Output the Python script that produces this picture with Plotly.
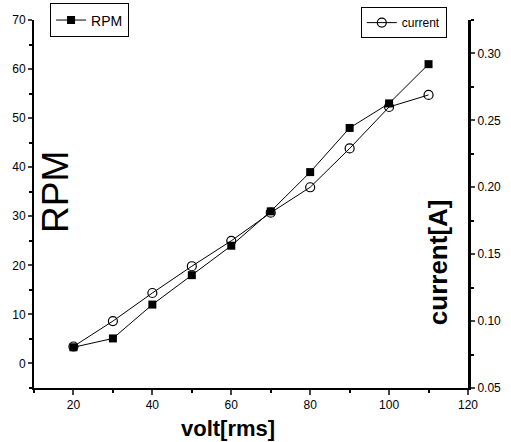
import plotly.graph_objects as go

volt = [20, 30, 40, 50, 60, 70, 80, 90, 100, 110]
rpm = [3.3, 5.1, 12.0, 18.0, 24.0, 31.0, 39.0, 48.0, 53.0, 61.0]
current = [0.081, 0.100, 0.121, 0.141, 0.160, 0.181, 0.200, 0.229, 0.260, 0.269]

x_ticks = [20, 40, 60, 80, 100, 120]
y_ticks = [0, 10, 20, 30, 40, 50, 60, 70]
y2_ticks = [0.05, 0.10, 0.15, 0.20, 0.25, 0.30]

font = "Liberation Sans, Arial, sans-serif"

fig = go.Figure()
fig.add_trace(go.Scatter(
    x=volt, y=rpm, name="RPM", mode="lines+markers",
    line=dict(color="black", width=1),
    marker=dict(symbol="square", size=8, color="black"),
    legend="legend", yaxis="y"))
fig.add_trace(go.Scatter(
    x=volt, y=current, name="current", mode="lines+markers",
    line=dict(color="black", width=1),
    marker=dict(symbol="circle-open", size=9, color="black", line=dict(width=1.2)),
    legend="legend2", yaxis="y2"))

fig.update_layout(
    width=511, height=442,
    margin=dict(l=34, r=43, t=20, b=54, autoexpand=False),
    plot_bgcolor="white", paper_bgcolor="white",
    font=dict(family=font, size=12, color="black"),
    showlegend=True,
    xaxis=dict(range=[10, 120], tickvals=x_ticks, ticks="outside", ticklen=5,
               tickwidth=1.5, showline=True, linecolor="black", linewidth=1.5,
               showgrid=False, zeroline=False,
               minor=dict(dtick=10, tick0=0, ticks="outside", ticklen=3, tickcolor="black"),
               tickfont=dict(size=12)),
    yaxis=dict(range=[-5, 70], tickvals=y_ticks, ticks="outside", ticklen=4,
               tickwidth=1.5, showline=True, linecolor="black", linewidth=2,
               showgrid=False, zeroline=False,
               minor=dict(dtick=5, tick0=0, ticks="outside", ticklen=3, tickcolor="black"),
               tickfont=dict(size=12)),
    yaxis2=dict(range=[0.05, 0.325], tickvals=y2_ticks, tickformat=".2f",
                overlaying="y", side="right", ticks="outside", ticklen=4,
                tickwidth=1.5, showline=True, linecolor="black", linewidth=3,
                showgrid=False, zeroline=False,
                minor=dict(dtick=0.025, tick0=0.05, ticks="outside", ticklen=3, tickcolor="black"),
                tickfont=dict(size=12)),
    legend=dict(x=0.037, y=1.045, xanchor="left", yanchor="top",
                bordercolor="black", borderwidth=1, bgcolor="white",
                font=dict(size=14), itemwidth=30, tracegroupgap=0),
    legend2=dict(x=0.753, y=1.035, xanchor="left", yanchor="top",
                 bordercolor="black", borderwidth=1, bgcolor="white",
                 font=dict(size=12), itemwidth=30, tracegroupgap=0),
)

fig.add_annotation(text="RPM", xref="paper", yref="paper", x=0.051, y=0.533,
                   xanchor="center", yanchor="middle",
                   showarrow=False, textangle=-90, font=dict(size=37, family=font))
fig.add_annotation(text="<b>current[A]</b>", xref="paper", yref="paper", x=0.931, y=0.342,
                   xanchor="center", yanchor="middle",
                   showarrow=False, textangle=-90, font=dict(size=26, family=font))
fig.add_annotation(text="<b>volt[rms]</b>", xref="paper", yref="paper", x=0.447, y=-0.111,
                   xanchor="center", yanchor="middle", showarrow=False,
                   font=dict(size=22, family=font))

fig.write_html("out.html", config={"displayModeBar": False},
               post_script="document.body.style.margin='0';document.body.style.overflow='hidden';")
